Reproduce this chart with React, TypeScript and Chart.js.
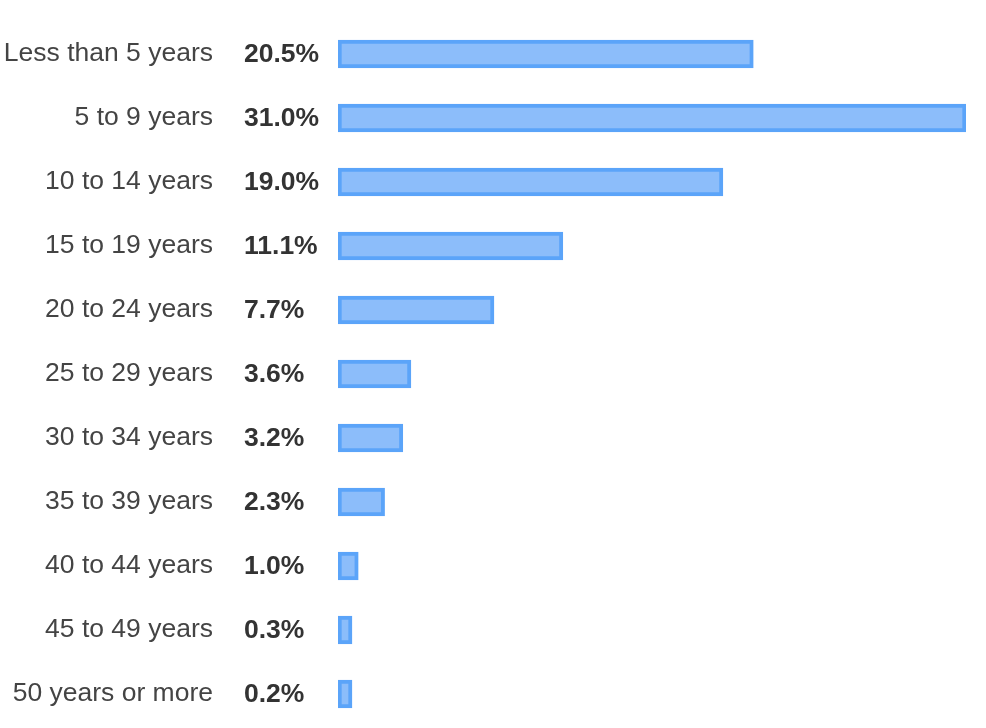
import React, { useEffect, useRef } from "react";
import { Chart, registerables } from "chart.js";

Chart.register(...registerables);

const categories = [
  "Less than 5 years",
  "5 to 9 years",
  "10 to 14 years",
  "15 to 19 years",
  "20 to 24 years",
  "25 to 29 years",
  "30 to 34 years",
  "35 to 39 years",
  "40 to 44 years",
  "45 to 49 years",
  "50 years or more",
];

const shares = [20.5, 31.0, 19.0, 11.1, 7.7, 3.6, 3.2, 2.3, 1.0, 0.3, 0.2];

const FONT = '"Liberation Sans", Arial, Helvetica, sans-serif';

const valueLabels = {
  id: "valueLabels",
  afterDatasetsDraw(chart: any) {
    const ctx = chart.ctx;
    const yScale = chart.scales.y;
    ctx.save();
    ctx.font = `bold 26.5px ${FONT}`;
    ctx.fillStyle = "#333333";
    ctx.textAlign = "left";
    ctx.textBaseline = "middle";
    shares.forEach((v, i) => {
      const y = yScale.getPixelForValue(i);
      ctx.fillText(v.toFixed(1) + "%", 244, y + 1);
    });
    ctx.restore();
  },
};

export default function App() {
  const ref = useRef<HTMLCanvasElement | null>(null);

  useEffect(() => {
    document.body.style.margin = "0";
    if (!ref.current) return;
    const chart = new Chart(ref.current, {
      type: "bar",
      data: {
        labels: categories,
        datasets: [
          {
            data: shares,
            backgroundColor: "#8cbdfa",
            borderColor: "#5ba4f9",
            borderWidth: 4,
            borderSkipped: false,
            barThickness: 28,
            minBarLength: 14,
          },
        ],
      },
      options: {
        indexAxis: "y",
        animation: false,
        responsive: true,
        maintainAspectRatio: false,
        layout: { padding: { top: 22, bottom: 2, right: 20, left: 0 } },
        plugins: {
          legend: { display: false },
          tooltip: { enabled: false },
        },
        scales: {
          x: {
            display: false,
            min: 0,
            max: 31,
          },
          y: {
            grid: { display: false, drawTicks: false },
            border: { display: false },
            ticks: {
              color: "#444444",
              font: { family: FONT, size: 26.5 },
              padding: 125,
            },
            afterFit(scale: any) {
              scale.width = 338;
              scale.paddingTop = 0;
              scale.paddingBottom = 0;
            },
          },
        },
      },
      plugins: [valueLabels],
    });
    return () => chart.destroy();
  }, []);

  return (
    <div style={{ position: "relative", width: 986, height: 728, background: "#fff" }}>
      <canvas ref={ref} />
    </div>
  );
}
